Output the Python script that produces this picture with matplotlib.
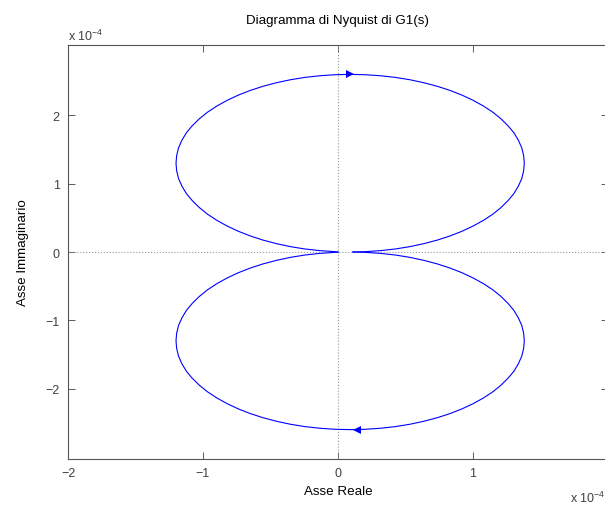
import matplotlib
matplotlib.use("Agg")
import matplotlib.pyplot as plt
import numpy as np

# Nyquist locus, positive-frequency branch (units of 1e-4)
re_pos = [0.0, -0.0225, -0.134, -0.244, -0.351, -0.455, -0.555, -0.650, -0.739, -0.822,
          -0.898, -0.967, -1.027, -1.079, -1.123, -1.156, -1.181, -1.195, -1.20,
          -1.195, -1.181, -1.156, -1.123, -1.079, -1.027, -0.967, -0.898, -0.822,
          -0.739, -0.650, -0.555, -0.455, -0.351, -0.244, -0.134, -0.0225, 0.09,
          0.2025, 0.314, 0.424, 0.531, 0.635, 0.735, 0.830, 0.919, 1.002,
          1.078, 1.147, 1.207, 1.259, 1.303, 1.336, 1.361, 1.375, 1.38,
          1.375, 1.361, 1.336, 1.303, 1.259, 1.207, 1.147, 1.078, 1.002,
          0.919, 0.830, 0.735, 0.635, 0.531, 0.424, 0.314, 0.2025, 0.11]
im_pos = [0.0, 0.005, 0.02, 0.044, 0.078, 0.122, 0.174, 0.235, 0.304, 0.381,
          0.464, 0.554, 0.65, 0.751, 0.855, 0.964, 1.074, 1.187, 1.30,
          1.413, 1.526, 1.636, 1.745, 1.849, 1.95, 2.046, 2.136, 2.219,
          2.296, 2.365, 2.426, 2.478, 2.522, 2.556, 2.58, 2.595, 2.60,
          2.595, 2.58, 2.556, 2.522, 2.478, 2.426, 2.365, 2.296, 2.219,
          2.136, 2.046, 1.95, 1.849, 1.745, 1.636, 1.526, 1.413, 1.30,
          1.187, 1.074, 0.964, 0.855, 0.751, 0.65, 0.554, 0.464, 0.381,
          0.304, 0.235, 0.174, 0.122, 0.078, 0.044, 0.02, 0.005, 0.0]
# arrow positions (units of 1e-4)
arrow_up = (0.09, 2.60)
arrow_down = (0.14, -2.60)

xticks = [-2, -1, 0, 1, 2]
yticks = [-2, -1, 0, 1, 2]

plt.rcParams['font.family'] = ['Liberation Sans', 'DejaVu Sans']
gray = '#404040'

fig = plt.figure(figsize=(6.05, 5.06), dpi=100)
ax = fig.add_axes([68/605, 46/506, 540/605, 414/506])

ax.axhline(0, color='#9a9a9a', linestyle=':', linewidth=0.8)
ax.axvline(0, color='#9a9a9a', linestyle=':', linewidth=0.8)

re = np.array(re_pos)
im = np.array(im_pos)
ax.plot(re, im, color='blue', linewidth=0.8)
ax.plot(re, -im, color='blue', linewidth=0.8)
ax.plot([arrow_up[0]], [arrow_up[1]], marker='>', color='blue', markersize=6, markeredgewidth=0)
ax.plot([arrow_down[0]], [arrow_down[1]], marker='<', color='blue', markersize=6, markeredgewidth=0)

ax.set_xlim(-2, 2)
ax.set_ylim(-3.03, 3.03)
ax.set_xticks(xticks)
ax.set_yticks(yticks)
ax.set_xticklabels(['\u22122', '\u22121', '0', '1', '2'])
ax.set_yticklabels(['\u22122', '\u22121', '0', '1', '2'])
ax.tick_params(direction='in', top=True, right=True, length=5, width=0.6,
               colors=gray, labelsize=9, pad=6)
for s in ax.spines.values():
    s.set_color('#555555')
    s.set_linewidth(0.8)

ax.set_title('Diagramma di Nyquist di G1(s)', fontsize=9.6, color='black', pad=16)
ax.set_xlabel('Asse Reale', fontsize=9.6, color='black', labelpad=4)
ax.set_ylabel('Asse Immaginario', fontsize=9.6, color='black', labelpad=12)

fig.text(68/605, 1 - 41/506, r'x 10$^{\mathregular{-4}}$', fontsize=9, color=gray,
         ha='left', va='baseline')
fig.text(570/605, 1 - 503/506, r'x 10$^{\mathregular{-4}}$', fontsize=9, color=gray,
         ha='left', va='baseline')

fig.savefig('out.png', dpi=100)
